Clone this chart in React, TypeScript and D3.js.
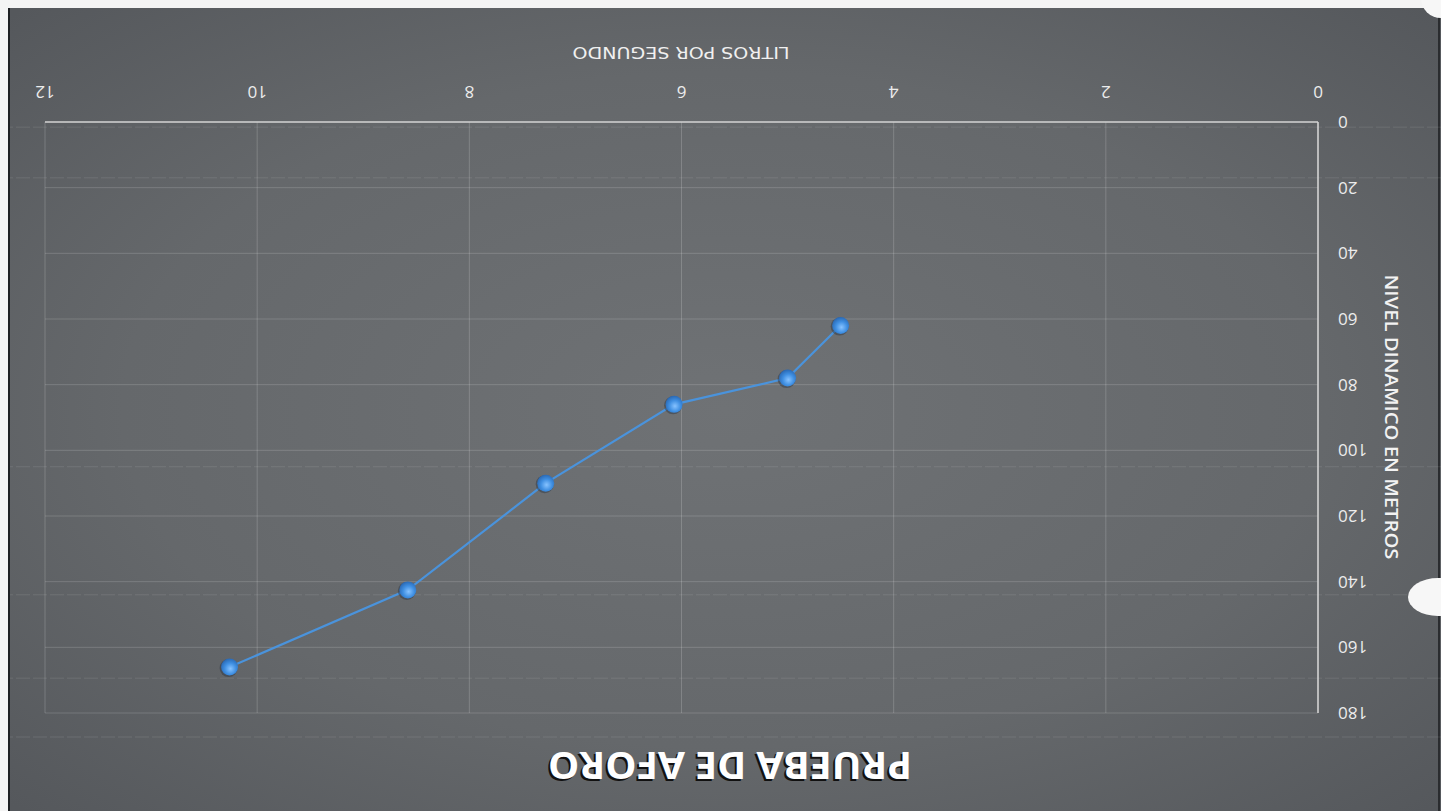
import React from "react";
import * as d3 from "d3";

// Data (the chart is photographed upside down)
const flowLps = [4.5, 5.0, 6.07, 7.28, 8.58, 10.26];
const levelM = [62, 78, 86, 110, 142.5, 166];
const xTicks = [0, 2, 4, 6, 8, 10, 12];
const yTicks = [0, 20, 40, 60, 80, 100, 120, 140, 160, 180];
const titleText = "PRUEBA DE AFORO";
const xTitle = "LITROS POR SEGUNDO";
const yTitle = "NIVEL DINAMICO EN METROS";

const W = 1441;
const H = 811;

export default function App() {
  // chart built in its natural orientation, then rotated 180°
  const x = d3.scaleLinear().domain([0, 12]).range([123, 1396]);
  const y = d3.scaleLinear().domain([0, 180]).range([689, 98]);
  const pts = flowLps.map((f, i) => [x(f), y(levelM[i])] as [number, number]);
  const line = d3.line<[number, number]>()(pts) || "";
  const streaks = [y(180) - 24, y(105), y(17), y(4) + 8, y(144), y(170) + 2];

  return (
    <svg
      width={W}
      height={H}
      style={{ position: "absolute", left: 0, top: 0, background: "#f4f4f4" }}
    >
      <defs>
        <radialGradient id="bg" cx="50%" cy="50%" r="70%">
          <stop offset="0%" stopColor="#6f7275" />
          <stop offset="60%" stopColor="#65686b" />
          <stop offset="100%" stopColor="#55585c" />
        </radialGradient>
        <radialGradient id="dot" cx="45%" cy="40%" r="60%">
          <stop offset="0%" stopColor="#86c2ff" />
          <stop offset="55%" stopColor="#3f8fe2" />
          <stop offset="100%" stopColor="#2a69b4" />
        </radialGradient>
      </defs>
      <g transform={`rotate(180 ${W / 2} ${H / 2})`}>
        {/* panel */}
        <rect x={0} y={0} width={W - 8} height={H - 8} fill="url(#bg)" />
        <line x1={W - 9} x2={W - 9} y1={0} y2={H - 8} stroke="#1f2124" strokeWidth={2} />
        <line x1={2} x2={2} y1={0} y2={H - 8} stroke="#2a2c2f" strokeWidth={2} />
        {/* scan streaks */}
        {streaks.map((s, i) => (
          <line key={"s" + i} x1={0} x2={W - 10} y1={s} y2={s} stroke="#ffffff" strokeOpacity={0.1}
            strokeWidth={1} strokeDasharray="14 3" />
        ))}
        {/* gridlines */}
        {yTicks.slice(1).map((t) => (
          <line key={"gy" + t} x1={x(0)} x2={x(12)} y1={y(t)} y2={y(t)} stroke="#ffffff" strokeOpacity={0.16} strokeWidth={1} />
        ))}
        {xTicks.slice(1).map((t) => (
          <line key={"gx" + t} x1={x(t)} x2={x(t)} y1={y(180)} y2={y(0)} stroke="#ffffff" strokeOpacity={0.18} strokeWidth={1} />
        ))}
        {/* axes */}
        <line x1={x(0)} x2={x(12)} y1={y(0)} y2={y(0)} stroke="#d4d4d4" strokeWidth={1.6} />
        <line x1={x(0)} x2={x(0)} y1={y(180)} y2={y(0)} stroke="#d4d4d4" strokeWidth={1.6} />
        {xTicks.map((t) => (
          <text key={"tx" + t} x={x(t)} y={y(0) + 36} textAnchor="middle" fill="#ececec"
            style={{ fontFamily: "'Open Sans', sans-serif", fontSize: 17 }}>
            {t}
          </text>
        ))}
        {yTicks.map((t) => (
          <text key={"ty" + t} x={x(0) - 20} y={y(t) + 6} textAnchor="end" fill="#ececec"
            style={{ fontFamily: "'Open Sans', sans-serif", fontSize: 17 }}>
            {t}
          </text>
        ))}
        {/* axis titles */}
        <text x={760} y={764} textAnchor="middle" fill="#f0f0f0" textLength={217} lengthAdjust="spacingAndGlyphs"
          style={{ fontFamily: "'DejaVu Sans Condensed', 'DejaVu Sans', sans-serif", fontSize: 16, fontWeight: 400 }}>
          {xTitle}
        </text>
        <text transform={`translate(56 ${394}) rotate(-90)`} textAnchor="middle" fill="#f2f2f2" textLength={285}
          lengthAdjust="spacingAndGlyphs"
          style={{ fontFamily: "'Open Sans', sans-serif", fontSize: 18, fontWeight: 600 }}>
          {yTitle}
        </text>
        {/* title */}
        <text x={713} y={57} textAnchor="middle" fill="#111" textLength={364} lengthAdjust="spacingAndGlyphs"
          style={{ fontFamily: "'Open Sans', sans-serif", fontSize: 38, fontWeight: 700 }}>
          {titleText}
        </text>
        <text x={711} y={59} textAnchor="middle" fill="#ffffff" textLength={364} lengthAdjust="spacingAndGlyphs"
          style={{ fontFamily: "'Open Sans', sans-serif", fontSize: 38, fontWeight: 700 }}>
          {titleText}
        </text>
        {/* series */}
        <path d={line} fill="none" stroke="#4a93dc" strokeWidth={2.2} />
        {pts.map((p, i) => (
          <g key={"p" + i}>
            <circle cx={p[0] + 1} cy={p[1] - 1} r={9} fill="#2b3440" opacity={0.45} />
            <circle cx={p[0]} cy={p[1]} r={8.5} fill="url(#dot)" />
          </g>
        ))}
      </g>
      {/* punch holes (screen coordinates) */}
      <circle cx={1441} cy={-2} r={20} fill="#f7f7f7" />
      <ellipse cx={1438} cy={597} rx={30} ry={19} fill="#f7f7f7" />
    </svg>
  );
}
